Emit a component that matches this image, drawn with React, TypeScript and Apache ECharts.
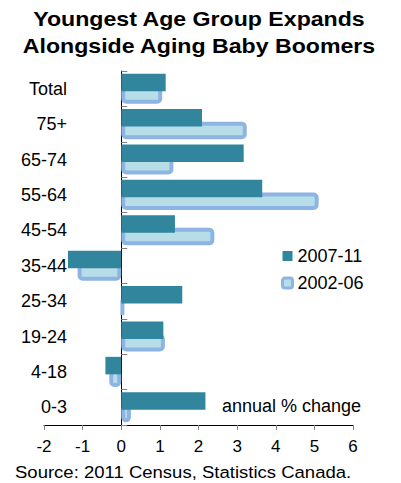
import React, { useEffect, useRef } from "react";
import * as echarts from "echarts";

const categories = ["Total", "75+", "65-74", "55-64", "45-54", "35-44", "25-34", "19-24", "4-18", "0-3"];
const values2007 = [1.15, 2.09, 3.17, 3.65, 1.39, -1.38, 1.58, 1.09, -0.41, 2.18];
const values2002 = [1.06, 3.25, 1.35, 5.11, 2.41, -1.13, 0.06, 1.13, -0.31, 0.25];
const seriesNames = ["2007-11", "2002-06"];
const xMin = -2;
const xMax = 6;
const xStep = 1;
const titleLines = ["Youngest Age Group Expands", "Alongside Aging Baby Boomers"];
const unitNote = "annual % change";
const sourceNote = "Source: 2011 Census, Statistics Canada.";

const FONT = "'Liberation Sans', Arial, sans-serif";
const TEAL = "#31859C";
const BLUE_BORDER = "#8DB4E2";
const BLUE_FILL = "#B7DEE8";

export default function App() {
  const ref = useRef<HTMLDivElement>(null);
  useEffect(() => {
    if (!ref.current) return;
    const chart = echarts.init(ref.current, null, { renderer: "svg" });
    chart.setOption({
      animation: false,
      textStyle: { fontFamily: FONT },
      grid: { left: 44, right: 48, top: 71, bottom: 58, containLabel: false, outerBoundsMode: "none" },
      legend: {
        orient: "vertical",
        left: 276,
        top: 242,
        itemWidth: 10,
        itemHeight: 10,
        itemGap: 9,
        itemStyle: { borderWidth: 0 },
        textStyle: { fontSize: 18, color: "#000", fontFamily: FONT },
        data: [
          { name: seriesNames[0], icon: "rect", itemStyle: { color: TEAL } },
          {
            name: seriesNames[1],
            icon: "roundRect",
            itemStyle: { color: BLUE_FILL, borderColor: BLUE_BORDER, borderWidth: 3 },
          },
        ],
      },
      xAxis: {
        type: "value",
        min: xMin,
        max: xMax,
        interval: xStep,
        splitLine: { show: false },
        axisLine: { show: true, onZero: false, lineStyle: { color: "#000", width: 1 } },
        axisTick: { show: true, inside: false, length: 5, lineStyle: { color: "#808080" } },
        axisLabel: { fontSize: 17, color: "#000", margin: 13, fontFamily: FONT },
      },
      yAxis: {
        type: "category",
        inverse: true,
        data: categories,
        axisLine: { show: true, onZero: true, lineStyle: { color: "#000", width: 1 } },
        axisTick: { show: true, inside: true, length: 6, lineStyle: { color: "#808080" } },
        axisLabel: { fontSize: 18, color: "#000", margin: -23, fontFamily: FONT },
      },
      series: [
        {
          name: seriesNames[0],
          type: "bar",
          data: values2007,
          barWidth: 17.5,
          barGap: "-28%",
          z: 3,
          itemStyle: { color: TEAL },
        },
        {
          name: seriesNames[1],
          type: "bar",
          data: values2002,
          barWidth: 17.5,
          z: 2,
          itemStyle: { color: BLUE_FILL, borderColor: BLUE_BORDER, borderWidth: 4, borderRadius: 3 },
        },
      ],
      graphic: [
        {
          type: "text",
          x: 199,
          y: 19,
          scaleX: 1.157,
          style: {
            text: titleLines[0],
            font: `bold 20px ${FONT}`,
            fill: "#000",
            textAlign: "center",
            textVerticalAlign: "middle",
          },
        },
        {
          type: "text",
          x: 199,
          y: 45.7,
          scaleX: 1.157,
          style: {
            text: titleLines[1],
            font: `bold 20px ${FONT}`,
            fill: "#000",
            textAlign: "center",
            textVerticalAlign: "middle",
          },
        },
        {
          type: "text",
          x: 222,
          y: 405.5,
          style: {
            text: unitNote,
            font: `18px ${FONT}`,
            fill: "#000",
            textAlign: "left",
            textVerticalAlign: "middle",
          },
        },
        {
          type: "text",
          x: 15,
          y: 472,
          scaleX: 1.09,
          style: {
            text: sourceNote,
            font: `17px ${FONT}`,
            fill: "#000",
            textAlign: "left",
            textVerticalAlign: "middle",
          },
        },
      ],
    });
    return () => chart.dispose();
  }, []);
  return (
    <div
      ref={ref}
      style={{ position: "absolute", left: 0, top: 0, width: 401, height: 483, background: "#fff" }}
    />
  );
}
